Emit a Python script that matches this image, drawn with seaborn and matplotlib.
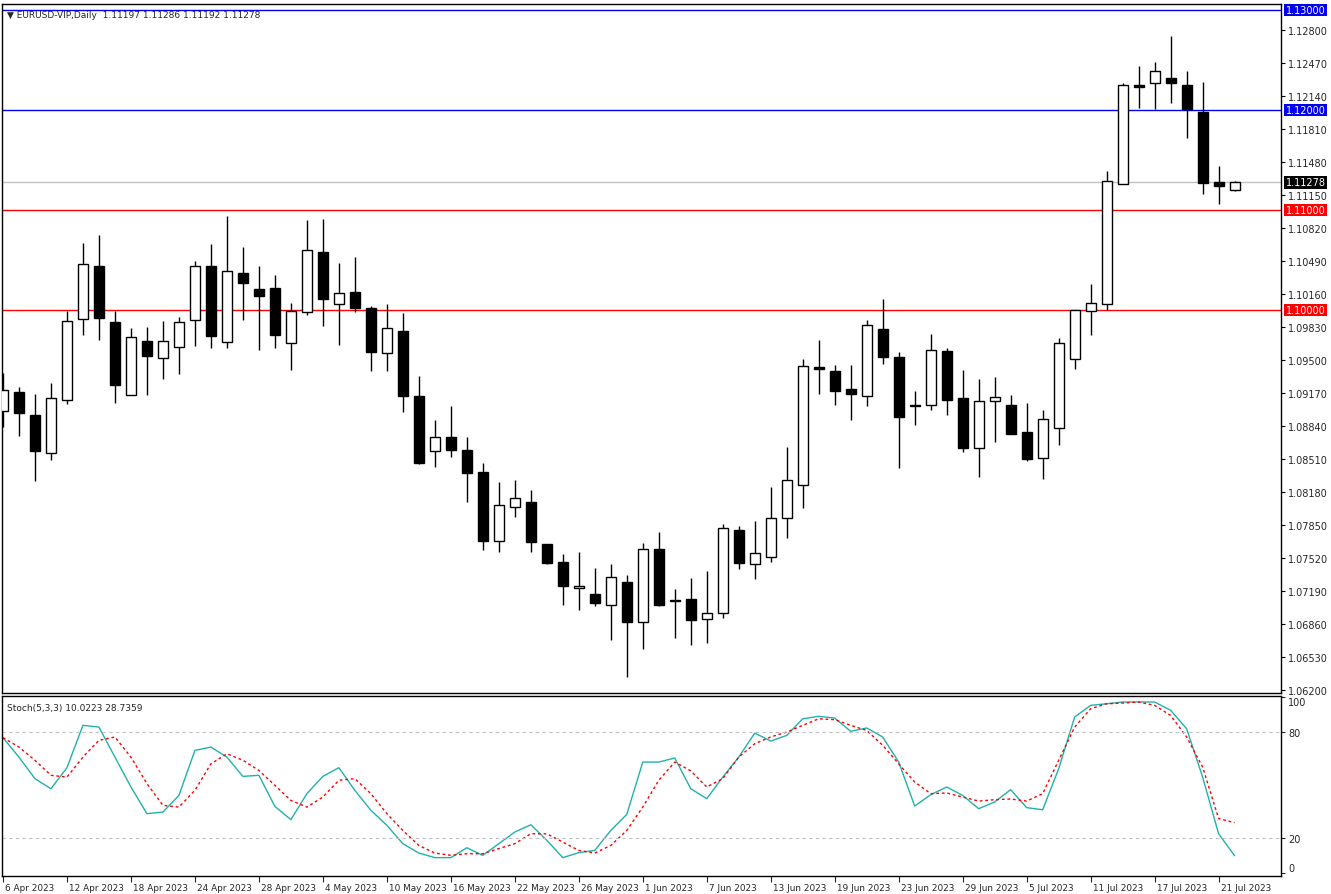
#!/usr/bin/env python3
"""EURUSD daily candles with Stochastic(5,3,3) panel, MetaTrader look."""

import matplotlib.pyplot as plt
import numpy as np
import pandas as pd
import seaborn as sns

opens = [1.0899, 1.0918, 1.0895, 1.0857, 1.0910, 1.0991, 1.1044, 1.0988, 1.0915, 1.0969,
         1.0952, 1.0963, 1.0990, 1.1044, 1.0968, 1.1037, 1.1021, 1.1022, 1.0967, 1.0998,
         1.1058, 1.1006, 1.1018, 1.1002, 1.0957, 1.0979, 1.0914, 1.0859, 1.0873, 1.0860,
         1.0838, 1.0769, 1.0803, 1.0808, 1.0766, 1.0748, 1.0722, 1.0716, 1.0705, 1.0728,
         1.0688, 1.0761, 1.0709, 1.0711, 1.0691, 1.0697, 1.0780, 1.0746, 1.0753, 1.0792,
         1.0825, 1.0943, 1.0939, 1.0921, 1.0914, 1.0981, 1.0953, 1.0904, 1.0905, 1.0959,
         1.0912, 1.0862, 1.0909, 1.0905, 1.0878, 1.0852, 1.0882, 1.0951, 1.0999, 1.1006,
         1.1126, 1.1225, 1.1227, 1.1232, 1.1225, 1.1198, 1.1128, 1.11197]
highs = [1.0937, 1.0923, 1.0916, 1.0927, 1.0999, 1.1067, 1.1075, 1.0999, 1.0982, 1.0983,
         1.0989, 1.0993, 1.1049, 1.1066, 1.1094, 1.1063, 1.1044, 1.1035, 1.1007, 1.1090,
         1.1091, 1.1047, 1.1053, 1.1004, 1.1006, 1.0997, 1.0934, 1.0890, 1.0904, 1.0873,
         1.0847, 1.0828, 1.0830, 1.0820, 1.0766, 1.0756, 1.0758, 1.0742, 1.0746, 1.0735,
         1.0767, 1.0778, 1.0721, 1.0732, 1.0739, 1.0786, 1.0784, 1.0789, 1.0823, 1.0863,
         1.0951, 1.0970, 1.0945, 1.0945, 1.0990, 1.1011, 1.0958, 1.0919, 1.0976, 1.0962,
         1.0940, 1.0931, 1.0933, 1.0915, 1.0907, 1.0900, 1.0972, 1.1000, 1.1026, 1.1139,
         1.1227, 1.1244, 1.1248, 1.1274, 1.1239, 1.1228, 1.1144, 1.11286]
lows = [1.0883, 1.0874, 1.0829, 1.0850, 1.0906, 1.0975, 1.0970, 1.0907, 1.0915, 1.0915,
        1.0931, 1.0936, 1.0964, 1.0962, 1.0962, 1.0990, 1.0960, 1.0962, 1.0940, 1.0995,
        1.0984, 1.0965, 1.0998, 1.0939, 1.0939, 1.0898, 1.0846, 1.0843, 1.0853, 1.0808,
        1.0760, 1.0758, 1.0793, 1.0758, 1.0746, 1.0705, 1.0700, 1.0704, 1.0670, 1.0633,
        1.0661, 1.0704, 1.0672, 1.0665, 1.0667, 1.0692, 1.0741, 1.0731, 1.0748, 1.0772,
        1.0802, 1.0916, 1.0905, 1.0890, 1.0904, 1.0946, 1.0842, 1.0885, 1.0900, 1.0895,
        1.0858, 1.0833, 1.0868, 1.0876, 1.0849, 1.0831, 1.0865, 1.0941, 1.0975, 1.1000,
        1.1126, 1.1202, 1.1201, 1.1207, 1.1172, 1.1116, 1.1106, 1.11192]
closes = [1.0920, 1.0897, 1.0859, 1.0912, 1.0989, 1.1046, 1.0992, 1.0925, 1.0973, 1.0954,
          1.0969, 1.0988, 1.1044, 1.0974, 1.1039, 1.1027, 1.1014, 1.0975, 1.0999, 1.1060,
          1.1011, 1.1017, 1.1002, 1.0958, 1.0982, 1.0914, 1.0847, 1.0873, 1.0860, 1.0837,
          1.0769, 1.0805, 1.0812, 1.0768, 1.0747, 1.0724, 1.0724, 1.0707, 1.0733, 1.0688,
          1.0761, 1.0705, 1.0710, 1.0690, 1.0697, 1.0782, 1.0747, 1.0757, 1.0792, 1.0830,
          1.0944, 1.0941, 1.0919, 1.0916, 1.0985, 1.0953, 1.0893, 1.0904, 1.0960, 1.0910,
          1.0862, 1.0909, 1.0913, 1.0876, 1.0851, 1.0891, 1.0967, 1.1000, 1.1007, 1.1129,
          1.1225, 1.1223, 1.1239, 1.1227, 1.1201, 1.1127, 1.1124, 1.11278]

stoch_k = [76.8, 65.8, 53.6, 47.9, 59.8, 83.8, 82.8, 65.8, 48.9, 33.8,
           34.7, 44.1, 69.6, 71.5, 65.8, 54.9, 55.5, 37.9, 30.4, 45.1,
           54.9, 59.8, 47.0, 35.7, 27.2, 16.8, 11.5, 8.9, 8.9, 14.5,
           10.2, 16.8, 23.4, 27.5, 18.7, 8.9, 11.7, 13.0, 24.3, 33.4,
           63.0, 63.0, 65.3, 47.9, 42.3, 54.5, 65.8, 79.4, 74.9, 78.1,
           87.5, 88.9, 87.9, 80.4, 82.3, 77.2, 63.0, 38.1, 44.5, 48.9,
           44.1, 36.6, 40.4, 47.4, 37.2, 36.0, 59.2, 88.5, 95.1, 96.0,
           97.0, 97.0, 97.0, 92.3, 81.9, 54.5, 22.4, 10.0]
stoch_d = [76.8, 71.5, 64.0, 55.5, 54.5, 65.8, 75.3, 77.2, 65.8, 50.8,
           38.5, 37.5, 47.0, 62.0, 67.7, 64.0, 58.3, 49.8, 41.3, 37.5,
           43.2, 52.7, 53.6, 45.1, 33.8, 24.3, 15.8, 11.5, 10.2, 11.1,
           11.1, 14.0, 16.8, 22.4, 22.4, 17.7, 13.0, 11.5, 15.8, 24.3,
           37.5, 52.7, 63.0, 58.0, 48.9, 53.6, 65.8, 73.4, 77.2, 80.0,
           83.8, 87.5, 87.0, 83.8, 80.9, 72.5, 62.0, 51.7, 45.1, 45.5,
           43.2, 40.9, 41.7, 42.1, 40.9, 45.1, 64.0, 82.8, 93.2, 96.0,
           96.4, 97.0, 95.1, 89.4, 77.2, 60.2, 31.0, 28.7]

dates = pd.bdate_range("2023-04-06", periods=len(opens))

price_ticks = [1.12800, 1.12470, 1.12140, 1.11810, 1.11480, 1.11150, 1.10820, 1.10490,
               1.10160, 1.09830, 1.09500, 1.09170, 1.08840, 1.08510, 1.08180, 1.07850,
               1.07520, 1.07190, 1.06860, 1.06530, 1.06200]
levels = [1.13, 1.12, 1.11, 1.10]
level_colors = ["#0000ee", "#0000ee", "#ff0000", "#ff0000"]
last_price = 1.11278

df = pd.DataFrame({"date": dates, "open": opens, "high": highs, "low": lows,
                   "close": closes, "k": stoch_k, "d": stoch_d})
df["i"] = np.arange(len(df))

sns.set_style("white")
plt.rcParams["font.family"] = ["DejaVu Sans"]

W, H = 1331, 895
fig = plt.figure(figsize=(W / 100, H / 100), dpi=100)
ax = fig.add_axes([2 / W, 1 - 694 / H, 1279 / W, 689 / H])
ax2 = fig.add_axes([2 / W, 1 - 877 / H, 1279 / W, 180 / H])

xlim = (-0.06, 79.9)

# candles
up = df["close"] >= df["open"]
ax.vlines(df["i"], df["low"], df["high"], color="black", lw=1, zorder=2)
body_lo = np.minimum(df["open"], df["close"])
body_h = np.maximum((df["close"] - df["open"]).abs(), 0.00008)
ax.bar(df["i"], body_h, bottom=body_lo, width=0.62,
       color=np.where(up, "white", "black"), edgecolor="black", lw=1, zorder=3)

for lv, c in zip(levels, level_colors):
    ax.axhline(lv, color=c, lw=1, zorder=1)
ax.axhline(last_price, color="#c0c0c0", lw=1, zorder=1)

ax.set_xlim(*xlim)
ax.set_ylim(1.0617, 1.1306)
ax.set_xticks([])
ax.yaxis.tick_right()
ax.set_yticks(price_ticks)
ax.set_yticklabels([f"{t:.5f}" for t in price_ticks], fontsize=7)
ax.tick_params(axis="y", length=3, pad=2, direction="out", color="black")
for s in ax.spines.values():
    s.set_color("black")
    s.set_linewidth(1)

tags = levels + [last_price]
tag_bg = level_colors + ["black"]
for lv, bg in zip(tags, tag_bg):
    ax.text(1.0035, lv, f"{lv:.5f}", transform=ax.get_yaxis_transform(), fontsize=7,
            color="white", va="center", ha="left",
            bbox=dict(boxstyle="square,pad=0.15", fc=bg, ec="none"))

ax.text(0.004, 0.992, "\u25bc EURUSD-VIP,Daily  1.11197 1.11286 1.11192 1.11278",
        transform=ax.transAxes, fontsize=6.5, va="top", ha="left")

# stochastic panel
sns.lineplot(data=df, x="i", y="k", ax=ax2, color="#20b2aa", lw=1)
sns.lineplot(data=df, x="i", y="d", ax=ax2, color="red", lw=1, linestyle=(0, (2, 2)))
for lv in (80, 20):
    ax2.axhline(lv, color="#c0c0c0", lw=0.8, linestyle=(0, (3, 3)))
ax2.set_xlim(*xlim)
ax2.set_ylim(-1.5, 100.4)
ax2.yaxis.tick_right()
ax2.set_yticks([100, 80, 20, 0])
ax2.set_yticklabels(["100", "80", "20", "0"], fontsize=7)
labs = ax2.get_yticklabels()
labs[0].set_va("top")
labs[-1].set_va("bottom")
ax2.tick_params(axis="y", length=3, pad=2)
ax2.set_xlabel("")
ax2.set_ylabel("")
for s in ax2.spines.values():
    s.set_color("black")
    s.set_linewidth(1)
ax2.text(0.004, 0.96, "Stoch(5,3,3) 10.0223 28.7359", transform=ax2.transAxes,
         fontsize=6.5, va="top", ha="left")

tick_idx = list(range(0, len(df), 4))
ax2.set_xticks(tick_idx)
ax2.set_xticklabels([""] * len(tick_idx))
ax2.tick_params(axis="x", length=4, direction="out", bottom=True)
for i in tick_idx:
    d = df["date"].iloc[i]
    ax2.text(i + 0.15, -0.04, f"{d.day} {d.strftime('%b %Y')}", transform=ax2.get_xaxis_transform(),
             fontsize=6.4, va="top", ha="left")

fig.savefig("out.png", dpi=100)
